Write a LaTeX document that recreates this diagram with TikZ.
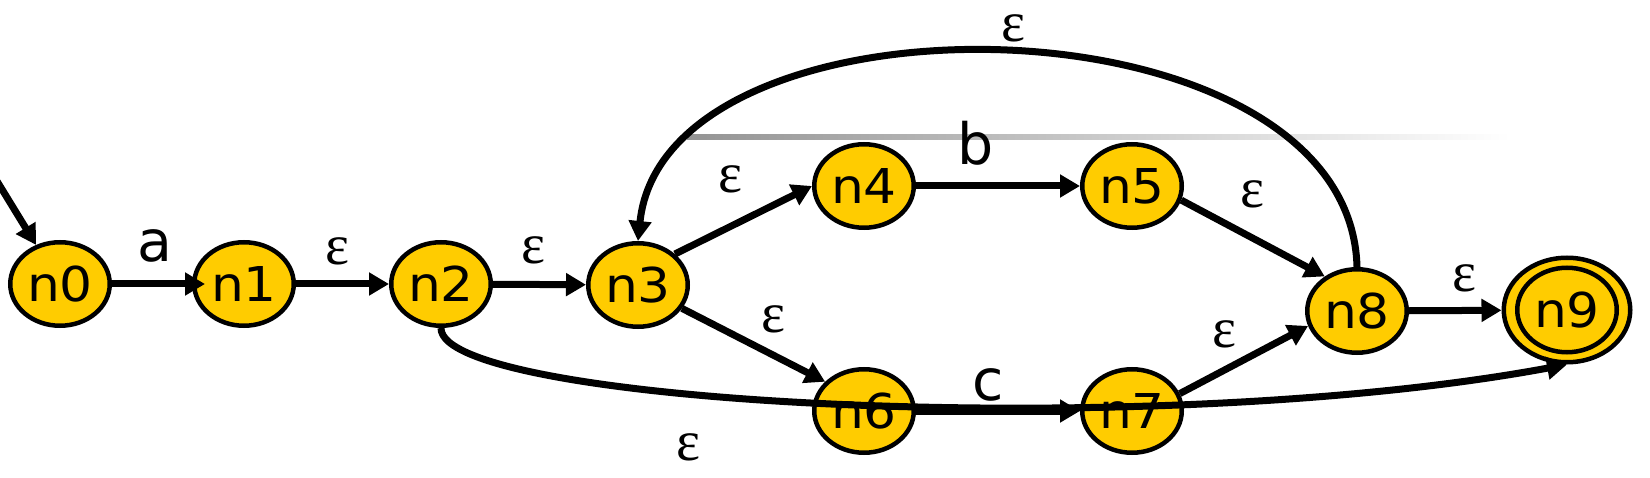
\documentclass[tikz,border=0pt]{standalone}
\usepackage{graphicx}
\usepackage{fontspec}
\usetikzlibrary{arrows.meta,shapes.geometric}
\newfontfamily\statefont{DejaVu Sans}
\newfontfamily\labfont{DejaVu Sans}
\newfontfamily\epsfont{Liberation Serif}
\definecolor{nodeyellow}{RGB}{255,204,0}
\newcommand\stlab[1]{\scalebox{1.08}[1]{#1}}
\begin{document}
\begin{tikzpicture}[x=1pt,y=-1pt,
  state/.style={ellipse, draw=black, line width=4.5pt, fill=nodeyellow,
    minimum width=99.5pt, minimum height=83.5pt, inner sep=0pt,
    font=\statefont\fontsize{48}{48}\selectfont},
  edge/.style={line width=7pt, -{Triangle[length=20pt,width=22pt]}},
  lab/.style={anchor=base, inner sep=0pt, font=\labfont\fontsize{57}{57}\selectfont},
  eps/.style={anchor=base, inner sep=0pt, font=\epsfont\fontsize{57}{57}\selectfont}]
\useasboundingbox (0,0) rectangle (1650,478);
\shade[left color=black!42, right color=white] (687,134.5) rectangle (1510,139.5);

\node[state] (n0) at (60,284) {\stlab{n0}};
\node[state] (n1) at (244,284) {\stlab{n1}};
\node[state] (n2) at (441,284) {\stlab{n2}};
\node[state] (n3) at (638,285) {\stlab{n3}};
\node[state] (n4) at (864,186) {\stlab{n4}};
\node[state] (n5) at (1132,186) {\stlab{n5}};
\node[state] (n6) at (864,411) {\stlab{n6}};
\node[state] (n7) at (1132,411) {\stlab{n7}};
\node[state] (n8) at (1357,311) {\stlab{n8}};
\node[state, minimum width=126.5pt, minimum height=104.5pt] (n9) at (1567,310) {\stlab{n9}};
\draw[line width=4.5pt] (n9.center) ellipse [x radius=49.75, y radius=42.25];

\coordinate (init) at (-8,173);
\draw[edge] (init) -- (n0);
\draw[edge] (n0) -- ([xshift=13pt]n1.west);
\draw[edge] (n1) -- (n2);
\draw[edge] (n2) -- (n3);
\draw[edge] (n3.40) -- (n4.west);
\draw[edge] (n3.-28) -- (n6.143);
\draw[edge] (n4) -- (n5);
\draw[edge] (n6) -- (n7);
\draw[edge] (n5.-16) -- (n8.133);
\draw[edge] (n7.20) -- (n8.197);
\draw[edge] (n8) -- (n9);
\draw[edge] (n8.north) .. controls (1350,-10) and (665,-20) .. (n3.north);
\draw[edge] (n2.south) .. controls (440,405) and (1150,442) .. (n9.south);

\node[lab] (la) at (155,262) {a};
\node[eps] (e12) at (337,265) {ε};
\node[eps] (e23) at (533,264) {ε};
\node[eps] (e34) at (730,193) {ε};
\node[eps] (e36) at (773,333) {ε};
\node[eps] (e29) at (688,460) {ε};
\node[lab] (lb) at (976,165) {b};
\node[lab] (lc) at (988,400) {c};
\node[eps] (e58) at (1252,208) {ε};
\node[eps] (e78) at (1224,348) {ε};
\node[eps] (e89) at (1464,292) {ε};
\node[eps] (e83) at (1013,42) {ε};
\end{tikzpicture}
\end{document}
